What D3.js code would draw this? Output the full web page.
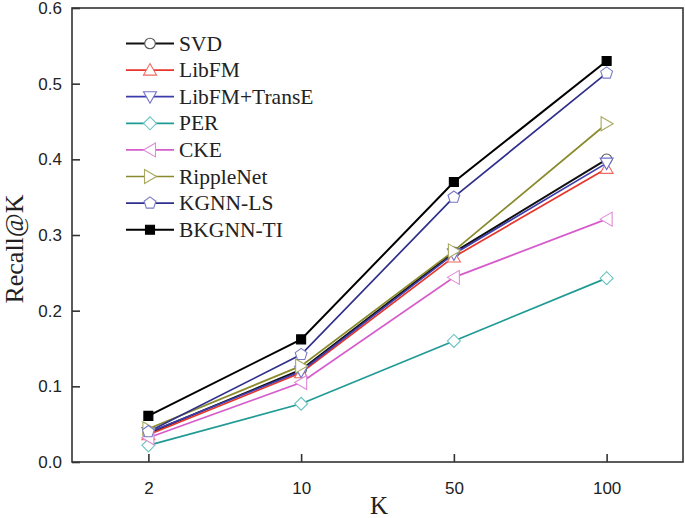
<!DOCTYPE html>
<html>
<head>
<meta charset="utf-8">
<script src="https://cdn.jsdelivr.net/npm/d3@7"></script>
<style>
  html, body { margin: 0; padding: 0; background: #fff; }
  svg { display: block; }
</style>
</head>
<body>
<svg id="chart" width="685" height="518"></svg>
<script>
// ---- data ----
const kValues = ["2", "10", "50", "100"];
const yTicks = [0.0, 0.1, 0.2, 0.3, 0.4, 0.5, 0.6];
const seriesNames = ["SVD", "LibFM", "LibFM+TransE", "PER", "CKE", "RippleNet", "KGNN-LS", "BKGNN-TI"];
const svd        = [0.038, 0.122, 0.277, 0.400];
const libfm      = [0.036, 0.118, 0.271, 0.388];
const libfmTrans = [0.039, 0.120, 0.275, 0.395];
const per        = [0.022, 0.077, 0.160, 0.243];
const cke        = [0.032, 0.105, 0.244, 0.321];
const rippleNet  = [0.044, 0.127, 0.279, 0.447];
const kgnnLs     = [0.040, 0.142, 0.350, 0.514];
const bkgnnTi    = [0.061, 0.162, 0.370, 0.530];
const seriesValues = [svd, libfm, libfmTrans, per, cke, rippleNet, kgnnLs, bkgnnTi];

// ---- styles ----
const lineColors   = ["#111111", "#e8352b", "#3c3cae", "#1f9a94", "#d65ccb", "#8a8a2c", "#2f2f8c", "#000000"];
const markerColors = ["#555555", "#f06a60", "#6f6fc8", "#6cc4c0", "#e08ad8", "#a8a860", "#7a7ac4", "#000000"];
const lineWidths   = [2, 1.7, 1.7, 1.7, 1.7, 1.7, 1.7, 2];
const shapes = ["circle", "triUp", "triDown", "diamond", "triLeft", "triRight", "pentagon", "square"];

function shapePath(s) {
  const p = d3.path();
  switch (s) {
    case "circle": p.arc(0, 0, 5.3, 0, 2 * Math.PI); p.closePath(); break;
    case "triUp": p.moveTo(0, -6.5); p.lineTo(6.5, 5); p.lineTo(-6.5, 5); p.closePath(); break;
    case "triDown": p.moveTo(0, 6.5); p.lineTo(6.5, -5); p.lineTo(-6.5, -5); p.closePath(); break;
    case "diamond": p.moveTo(0, -6.5); p.lineTo(6.5, 0); p.lineTo(0, 6.5); p.lineTo(-6.5, 0); p.closePath(); break;
    case "triLeft": p.moveTo(-6.5, 0); p.lineTo(5.5, -7); p.lineTo(5.5, 7); p.closePath(); break;
    case "triRight": p.moveTo(6.5, 0); p.lineTo(-5.5, -7); p.lineTo(-5.5, 7); p.closePath(); break;
    case "pentagon": {
      for (let i = 0; i < 5; i++) {
        const a = -Math.PI / 2 + i * 2 * Math.PI / 5;
        const px = 6.2 * Math.cos(a), py = 6.2 * Math.sin(a);
        if (i === 0) p.moveTo(px, py); else p.lineTo(px, py);
      }
      p.closePath(); break;
    }
    case "square": p.rect(-4.5, -4.5, 9, 9); break;
  }
  return p.toString();
}

const svg = d3.select("#chart");
const plotLeft = 72, plotRight = 683, plotTop = 8, plotBottom = 462;

const x = d3.scalePoint().domain(kValues).range([plotLeft, plotRight]).padding(0.5);
const y = d3.scaleLinear().domain([0, 0.6]).range([plotBottom, plotTop]);

// frame
svg.append("rect")
  .attr("x", plotLeft).attr("y", plotTop)
  .attr("width", plotRight - plotLeft).attr("height", plotBottom - plotTop)
  .attr("fill", "none").attr("stroke", "#333").attr("stroke-width", 1.6);

// y axis (ticks inward)
const yAxis = d3.axisLeft(y).tickValues(yTicks).tickFormat(d3.format(".1f")).tickSizeInner(-8).tickSizeOuter(0).tickPadding(10);
const gy = svg.append("g").attr("transform", `translate(${plotLeft},0)`).call(yAxis);
gy.select(".domain").remove();
gy.selectAll(".tick line").attr("stroke", "#333").attr("stroke-width", 1.6);
gy.selectAll(".tick text").attr("font-family", "'Liberation Sans', Arial, sans-serif").attr("font-size", 17).attr("fill", "#222");

// x axis (ticks inward)
const xAxis = d3.axisBottom(x).tickSizeInner(-8).tickSizeOuter(0).tickPadding(20);
const gx = svg.append("g").attr("transform", `translate(0,${plotBottom})`).call(xAxis);
gx.select(".domain").remove();
gx.selectAll(".tick line").attr("stroke", "#333").attr("stroke-width", 1.6);
gx.selectAll(".tick text").attr("font-family", "'Liberation Sans', Arial, sans-serif").attr("font-size", 17).attr("fill", "#222");

// axis titles
svg.append("text")
  .attr("x", 379).attr("y", 514)
  .attr("text-anchor", "middle")
  .attr("font-family", "'Liberation Serif', 'Times New Roman', serif")
  .attr("font-size", 25).attr("fill", "#222")
  .text("K");
svg.append("text")
  .attr("transform", "translate(23,249) rotate(-90)")
  .attr("text-anchor", "middle")
  .attr("font-family", "'Liberation Serif', 'Times New Roman', serif")
  .attr("font-size", 26).attr("fill", "#222")
  .text("Recall@K");

// lines
const line = d3.line().x((d, i) => x(kValues[i])).y(d => y(d));
seriesValues.forEach((vals, si) => {
  svg.append("path")
    .attr("d", line(vals))
    .attr("fill", "none")
    .attr("stroke", lineColors[si])
    .attr("stroke-width", lineWidths[si])
    .attr("stroke-linejoin", "miter");
});
// markers
seriesValues.forEach((vals, si) => {
  svg.append("g").selectAll("path").data(vals).join("path")
    .attr("transform", (d, i) => `translate(${x(kValues[i])},${y(d)})`)
    .attr("d", shapePath(shapes[si]))
    .attr("fill", shapes[si] === "square" ? "#000" : "#fff")
    .attr("stroke", markerColors[si])
    .attr("stroke-width", 1.1);
});

// legend
const legend = svg.append("g");
seriesNames.forEach((name, si) => {
  const ly = 43.5 + si * 26.6;
  legend.append("line")
    .attr("x1", 126).attr("x2", 174).attr("y1", ly).attr("y2", ly)
    .attr("stroke", lineColors[si]).attr("stroke-width", lineWidths[si]);
  legend.append("path")
    .attr("transform", `translate(150,${ly})`)
    .attr("d", shapePath(shapes[si]))
    .attr("fill", shapes[si] === "square" ? "#000" : "#fff")
    .attr("stroke", markerColors[si]).attr("stroke-width", 1.1);
  legend.append("text")
    .attr("x", 179).attr("y", ly + 7)
    .attr("font-family", "'Liberation Serif', 'Times New Roman', serif")
    .attr("font-size", 21.5).attr("fill", "#222")
    .text(name);
});
</script>
</body>
</html>
